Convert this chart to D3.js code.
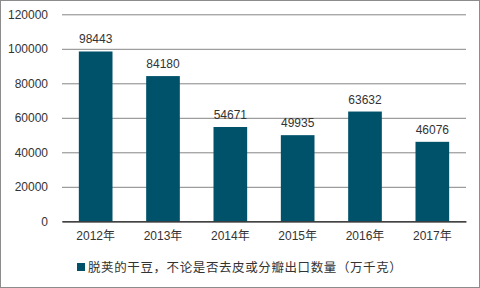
<!DOCTYPE html>
<html><head><meta charset="utf-8">
<script src="https://cdn.jsdelivr.net/npm/d3@7"></script>
<style>html,body{margin:0;padding:0;background:#fff;}svg{display:block;}</style>
</head><body>
<svg id="c" width="480" height="288"></svg>
<script>
const categories = ["2012年","2013年","2014年","2015年","2016年","2017年"];
const values = [98443, 84180, 54671, 49935, 63632, 46076];
const yTicks = [0, 20000, 40000, 60000, 80000, 100000, 120000];
const seriesName = "脱荚的干豆，不论是否去皮或分瓣出口数量（万千克）";

const svg = d3.select("#c");
const font = "'Liberation Sans', Arial, 'Noto Sans CJK SC', sans-serif";
const W = 480, H = 288;
const m = {left: 62, right: 14, top: 14.3, bottom: 66.7};

svg.append("rect").attr("x",0.5).attr("y",0.5).attr("width",W-1).attr("height",H-1)
  .attr("fill","#fff").attr("stroke","#8c8c8c").attr("stroke-width",1);

const x = d3.scaleBand().domain(categories).range([m.left, W - m.right]).paddingInner(0.5).paddingOuter(0.25);
const y = d3.scaleLinear().domain([0, 120000]).range([H - m.bottom, m.top]);

// gridlines
const yAxis = d3.axisLeft(y).tickValues(yTicks).tickSize(-(W - m.right - m.left)).tickFormat(d3.format("d")).tickPadding(14);
const gy = svg.append("g").attr("transform", `translate(${m.left},0)`).call(yAxis);
gy.select(".domain").remove();
gy.selectAll(".tick line").attr("stroke","#858585").attr("stroke-width",1);
gy.selectAll(".tick text").attr("font-family",font).attr("font-size","12px").attr("fill","#333");

// bars
svg.append("g").selectAll("rect").data(values).join("rect")
  .attr("x",(d,i)=>x(categories[i]))
  .attr("y",d=>y(d))
  .attr("width",x.bandwidth())
  .attr("height",d=>y(0)-y(d))
  .attr("fill","#00526B");

// value labels
svg.append("g").selectAll("text").data(values).join("text")
  .attr("x",(d,i)=>x(categories[i])+x.bandwidth()/2)
  .attr("y",d=>y(d)-8)
  .attr("text-anchor","middle")
  .attr("font-family",font).attr("font-size","12px").attr("fill","#333")
  .text(d=>d);

// x axis
const xAxis = d3.axisBottom(x).tickSize(0).tickPadding(10);
const gx = svg.append("g").attr("transform",`translate(0,${y(0)})`).call(xAxis);
gx.select(".domain").attr("stroke","#222").attr("stroke-width",1.2);
gx.selectAll(".tick text").attr("font-family",font).attr("font-size","12px").attr("fill","#333");

// legend
const lg = svg.append("g").attr("transform","translate(77,263)");
lg.append("rect").attr("width",8).attr("height",8).attr("fill","#00526B");
lg.append("text").attr("x",11).attr("y",8.8).attr("font-family",font).attr("font-size","12.5px")
  .attr("letter-spacing","0.6px").attr("fill","#333").text(seriesName);
</script>
</body></html>
